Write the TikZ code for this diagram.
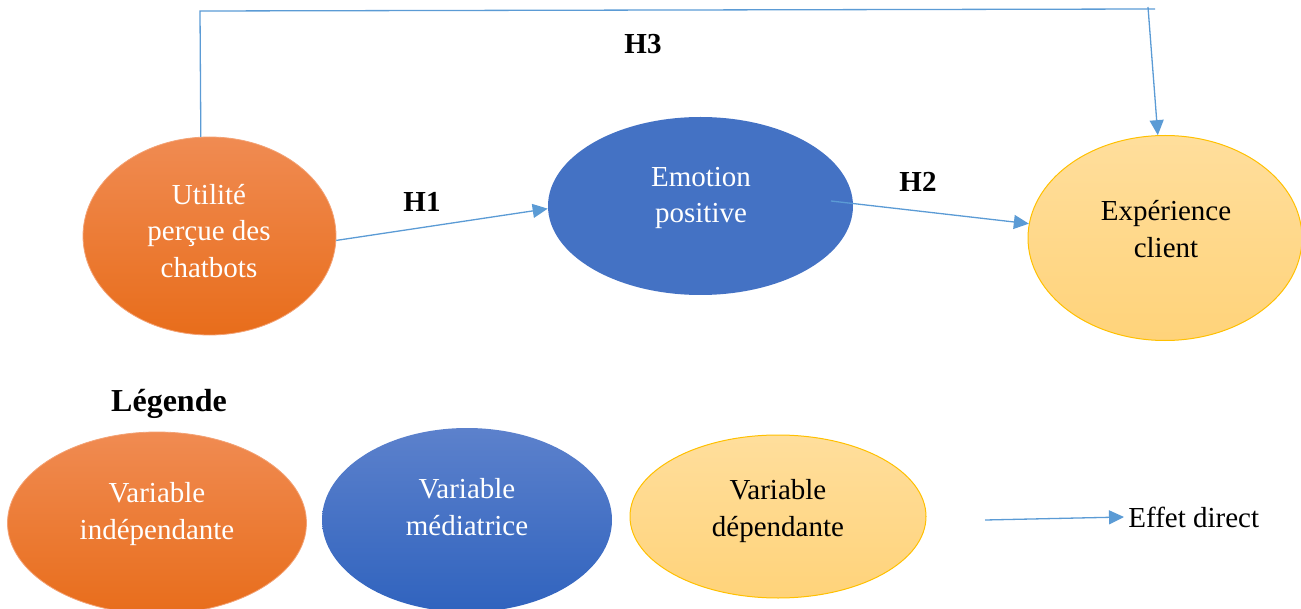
\documentclass[tikz,border=0pt]{standalone}
\usepackage{fontspec}
\setmainfont{Liberation Serif}
\usetikzlibrary{arrows.meta,shapes.geometric}
\definecolor{lineblue}{RGB}{91,155,213}
\definecolor{orTop}{RGB}{240,139,82}
\definecolor{orBot}{RGB}{232,109,27}
\definecolor{blSolid}{RGB}{68,114,196}
\definecolor{blTop}{RGB}{92,129,204}
\definecolor{blBot}{RGB}{48,99,190}
\definecolor{yeTop}{RGB}{255,222,156}
\definecolor{yeBot}{RGB}{255,211,122}
\definecolor{yeEdge}{RGB}{255,192,0}
\tikzset{
  ell/.style={ellipse, inner sep=0pt},
  orell/.style={ell, top color=orTop, bottom color=orBot, draw=orTop!80!white, line width=0.4pt},
  blell/.style={ell, fill=blSolid},
  blgell/.style={ell, top color=blTop, bottom color=blBot},
  yeell/.style={ell, top color=yeTop, bottom color=yeBot, draw=yeEdge, line width=0.5pt},
  wtxt/.style={align=center, text=white, inner sep=0pt, font=\fontsize{14.5}{18.25}\selectfont},
  btxt/.style={align=center, text=black, inner sep=0pt, font=\fontsize{14.5}{18.25}\selectfont},
  hlab/.style={inner sep=0pt, font=\bfseries\fontsize{14.5}{17}\selectfont},
  conn/.style={draw=lineblue, line width=0.65pt},
  arr/.style={conn, -{Triangle[length=7.5pt,width=7pt]}, shorten >=0pt}
}
\begin{document}
\begin{tikzpicture}[x=0.5pt,y=-0.5pt]
\useasboundingbox (0,0) rectangle (1301,609);
\clip (0,0) rectangle (1301,609);
% main ellipses
\node[orell, minimum width=126.5pt, minimum height=99pt] (u) at (209.5,236) {};
\node[wtxt] (ut) at (209,231) {Utilité\\perçue des\\chatbots};
\node[blell, minimum width=152.5pt, minimum height=89pt] (e) at (700.5,206) {};
\node[wtxt] (et) at (701,198) {Emotion\\positive};
\node[yeell, minimum width=137pt, minimum height=102.5pt] (x) at (1165,238) {};
\node[btxt] (xt) at (1166,229) {Expérience\\client};
% labels
\node[hlab] (h1) at (422,202) {H1};
\node[hlab] (h2) at (918,182) {H2};
\node[hlab] (h3) at (643,44) {H3};
% connectors
\draw[arr] (u.-2) -- (e.181);
\coordinate (h2s) at (831,201);
\draw[arr] (h2s) -- (x.174);
\coordinate (h3a) at (200,11);
\coordinate (h3b) at (1155,9);
\coordinate (h3c) at (1148,7);
\draw[conn] (u.95) -- (h3a) -- (h3b);
\draw[arr] (h3c) -- (x.94);
% legend
\node[inner sep=0pt, font=\bfseries\fontsize{16}{19}\selectfont] (leg) at (169,404) {Légende};
\node[orell, minimum width=149.5pt, minimum height=91pt] (l1) at (157,523) {};
\node[wtxt] (l1t) at (157,514) {Variable\\indépendante};
\node[blgell, minimum width=145pt, minimum height=92pt] (l2) at (467,520) {};
\node[wtxt] (l2t) at (467,507) {Variable\\médiatrice};
\node[yeell, minimum width=148pt, minimum height=81.5pt] (l3) at (778,516.5) {};
\node[btxt] (l3t) at (778,511) {Variable\\dépendante};
\coordinate (ea) at (985,520);
\node[anchor=west, inner sep=2pt, font=\fontsize{14.5}{18.25}\selectfont] (eff) at (1124,517) {Effet direct};
\draw[arr] (ea) -- (eff.west);
\end{tikzpicture}
\end{document}
